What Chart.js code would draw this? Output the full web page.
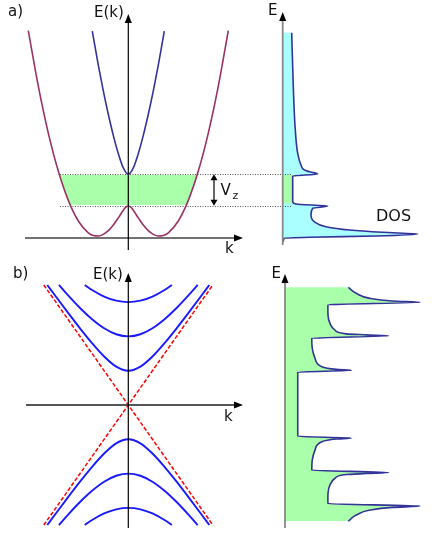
<!DOCTYPE html>
<html>
<head>
<meta charset="utf-8">
<script src="https://cdn.jsdelivr.net/npm/chart.js@4.4.1/dist/chart.umd.min.js"></script>
<style>
  html, body { margin: 0; padding: 0; background: #fff; }
  #fig { display: block; }
</style>
</head>
<body>
<canvas id="fig" width="436" height="547"></canvas>
<script>
// a) wire with spin-orbit + Zeeman: lower band (magenta) and upper band (blue)
const kLowerA = [-1.0, -0.9, -0.8, -0.7, -0.6, -0.5, -0.4, -0.35, -0.3, -0.25, -0.2, -0.15, -0.1, -0.05, -0.025, 0,
  0.025, 0.05, 0.1, 0.15, 0.2, 0.25, 0.3, 0.35, 0.4, 0.5, 0.6, 0.7, 0.8, 0.9, 1.0];
const eLowerA = [2.074, 1.518, 1.049, 0.669, 0.376, 0.170, 0.052, 0.025, 0.020, 0.036, 0.073, 0.129, 0.201, 0.278, 0.308, 0.320,
  0.308, 0.278, 0.201, 0.129, 0.073, 0.036, 0.020, 0.025, 0.052, 0.170, 0.376, 0.669, 1.049, 1.518, 2.074];
const kUpperA = [-0.36, -0.3, -0.25, -0.2, -0.15, -0.1, -0.05, 0, 0.05, 0.1, 0.15, 0.2, 0.25, 0.3, 0.36];
const eUpperA = [2.069, 1.729, 1.471, 1.237, 1.026, 0.844, 0.701, 0.637, 0.701, 0.844, 1.026, 1.237, 1.471, 1.729, 2.069];
// Zeeman gap (green band) edges
const zeemanGapA = [0.322, 0.637];
const kBandA = [-0.683, 0.683, 0.635, 0.584, -0.584, -0.635];
const eBandA = [0.63, 0.63, 0.48, 0.33, 0.33, 0.48];

// a) density of states
const eDosA = [2.053, 1.513, 1.08, 0.847, 0.73, 0.68, 0.663, 0.64, 0.62, 0.363, 0.34, 0.32, 0.297, 0.23, 0.163, 0.113,
  0.08, 0.057, 0.04, 0.02, 0.007, -0.003, -0.037];
const dosA = [0.9, 1.06, 1.26, 1.5, 1.83, 2.16, 2.66, 3.5, 1.0, 1.0, 1.33, 4.5, 3.0, 2.83, 3.16, 4.33,
  6.66, 10.0, 13.5, 9.33, 2.66, 0.16, 0.06];
const eGapDosA = [0.63, 0.63, 0.345, 0.345];
const gapDosA = [0, 1.0, 1.0, 0];

// b) Dirac cone (red dashed) and massive subbands (blue)
const kDirac = [-3.5, 3.5];
const eDiracUp = [-3.5, 3.5];
const eDiracDown = [3.5, -3.5];
const kSub1 = [-3.354, -3, -2.5, -2, -1.5, -1, -0.5, 0, 0.5, 1, 1.5, 2, 2.5, 3, 3.354];
const eSub1 = [3.5, 3.162, 2.693, 2.236, 1.803, 1.414, 1.118, 1, 1.118, 1.414, 1.803, 2.236, 2.693, 3.162, 3.5];
const eSub1Low = [-3.5, -3.162, -2.693, -2.236, -1.803, -1.414, -1.118, -1, -1.118, -1.414, -1.803, -2.236, -2.693, -3.162, -3.5];
const kSub2 = [-2.872, -2.5, -2, -1.5, -1, -0.5, 0, 0.5, 1, 1.5, 2, 2.5, 2.872];
const eSub2 = [3.5, 3.202, 2.828, 2.5, 2.236, 2.062, 2, 2.062, 2.236, 2.5, 2.828, 3.202, 3.5];
const eSub2Low = [-3.5, -3.202, -2.828, -2.5, -2.236, -2.062, -2, -2.062, -2.236, -2.5, -2.828, -3.202, -3.5];
const kSub3 = [-1.803, -1.5, -1, -0.5, 0, 0.5, 1, 1.5, 1.803];
const eSub3 = [3.5, 3.354, 3.162, 3.041, 3, 3.041, 3.162, 3.354, 3.5];
const eSub3Low = [-3.5, -3.354, -3.162, -3.041, -3, -3.041, -3.162, -3.354, -3.5];

// b) density of states
const eDosB = [3.49, 3.31, 3.16, 3.08, 3.04, 2.97, 2.85, 2.66, 2.41, 2.21, 2.1, 2.07, 2.04, 1.97, 1.67, 1.37, 1.12, 1.04, 1.01, 0.96,
  -0.96, -1.01, -1.04, -1.12, -1.37, -1.67, -1.97, -2.04, -2.07, -2.1, -2.21, -2.41, -2.66, -2.85, -2.97, -3.04, -3.08, -3.16, -3.31, -3.49];
const dosB = [5.06, 5.7, 6.8, 8.6, 10.8, 3.44, 3.43, 3.44, 3.6, 4.0, 4.9, 6.5, 8.3, 2.14, 2.18, 2.4, 2.94, 4.1, 5.33, 1.02,
  1.02, 5.33, 4.1, 2.94, 2.4, 2.18, 2.14, 8.3, 6.5, 4.9, 4.0, 3.6, 3.44, 3.43, 3.44, 10.8, 8.6, 6.8, 5.7, 5.06];

const W = 436, H = 547;
const MAGENTA = "#993366", NAVY = "#333399", BLUE = "#1a1aff", RED = "#ff0000";
const GREEN = "#aaffaa", CYAN = "#aaffff";

// value 0 sits at pixel p0, pxPerUnit pixels per unit, over the whole canvas
function xScale(p0, pxPerUnit) {
  return { type: "linear", axis: "x", display: false, bounds: "data", min: -p0 / pxPerUnit, max: (W - p0) / pxPerUnit };
}
function yScale(p0, pxPerUnit) {
  return { type: "linear", axis: "y", display: false, bounds: "data", min: -(H - p0) / pxPerUnit, max: p0 / pxPerUnit };
}

function pts(xs, ys) {
  return xs.map((x, i) => ({ x, y: ys[i] }));
}

function curve(xs, ys, ax, ay, color, width, extra) {
  return Object.assign({
    data: pts(xs, ys), xAxisID: ax, yAxisID: ay,
    borderColor: color, borderWidth: width, pointRadius: 0, fill: false,
    cubicInterpolationMode: "monotone",
  }, extra || {});
}

function dosCurve(xs, ys, ax, ay) {
  return curve(xs, ys, ax, ay, NAVY, 1.6, { indexAxis: "y" });
}

function dosFill(xs, ys, ax, ay, color) {
  const data = [{ x: 0, y: ys[0] }].concat(pts(xs, ys), [{ x: 0, y: ys[ys.length - 1] }]);
  return { data, xAxisID: ax, yAxisID: ay, indexAxis: "y", cubicInterpolationMode: "monotone",
    borderWidth: 0, pointRadius: 0, fill: "shape", backgroundColor: color };
}

function polygon(xs, ys, ax, ay, color) {
  return { data: pts(xs, ys), xAxisID: ax, yAxisID: ay, borderWidth: 0, pointRadius: 0,
    tension: 0, fill: "shape", backgroundColor: color };
}

function arrowHead(ctx, x, y, dx, dy, len, half) {
  ctx.beginPath();
  ctx.moveTo(x, y);
  ctx.lineTo(x - dx * len - dy * half, y - dy * len + dx * half);
  ctx.lineTo(x - dx * len + dy * half, y - dy * len - dx * half);
  ctx.closePath();
  ctx.fill();
}

function axisLine(ctx, x0, y0, x1, y1, color, width) {
  const L = Math.hypot(x1 - x0, y1 - y0), dx = (x1 - x0) / L, dy = (y1 - y0) / L;
  ctx.strokeStyle = color;
  ctx.lineWidth = width;
  ctx.beginPath();
  ctx.moveTo(x0, y0);
  ctx.lineTo(x1 - dx * 6, y1 - dy * 6);
  ctx.stroke();
  ctx.fillStyle = "#000";
  arrowHead(ctx, x1, y1, dx, dy, 9, 3.5);
}

function label(ctx, text, x, y, size) {
  ctx.font = size + 'px "DejaVu Sans"';
  ctx.fillStyle = "#111";
  ctx.textAlign = "left";
  ctx.textBaseline = "middle";
  ctx.fillText(text, x, y);
}

const decorations = {
  id: "decorations",
  afterDatasetsDraw(chart) {
    const ctx = chart.ctx;
    const s = chart.scales;
    ctx.save();

    // panel a: band structure axes
    const ka = s.xa.getPixelForValue(0), ea = s.ya.getPixelForValue(0);
    axisLine(ctx, 25, ea, 243, ea, "#444", 1.4);
    axisLine(ctx, ka, 250, ka, 14, "#000", 1.2);

    // dotted gap edges reaching into the DOS panel
    ctx.strokeStyle = "#555";
    ctx.lineWidth = 1;
    ctx.setLineDash([1, 1.5]);
    zeemanGapA.forEach((e) => {
      const y = Math.round(s.ya.getPixelForValue(e)) + 0.5;
      ctx.beginPath();
      ctx.moveTo(s.xa.getPixelForValue(-0.683), y);
      ctx.lineTo(s.xda.getPixelForValue(0.83), y);
      ctx.stroke();
    });
    ctx.setLineDash([]);

    // V_Z double arrow
    const xv = s.xa.getPixelForValue(0.857);
    const yt = s.ya.getPixelForValue(zeemanGapA[1]), yb = s.ya.getPixelForValue(zeemanGapA[0]);
    ctx.strokeStyle = "#000";
    ctx.lineWidth = 1.2;
    ctx.beginPath();
    ctx.moveTo(xv, yt + 4);
    ctx.lineTo(xv, yb - 4);
    ctx.stroke();
    ctx.fillStyle = "#000";
    arrowHead(ctx, xv, yt, 0, -1, 6, 3.5);
    arrowHead(ctx, xv, yb, 0, 1, 6, 3.5);

    label(ctx, "a)", 8, 12, 15);
    label(ctx, "E(k)", 94, 13, 15);
    label(ctx, "k", 225, 249, 15);
    label(ctx, "V", 220.5, 191.5, 15);
    label(ctx, "z", 232.5, 196, 11);

    // panel a: DOS axis
    const da = s.xda.getPixelForValue(0);
    axisLine(ctx, da, 245, da, 12, "#888", 1.8);
    label(ctx, "E", 268, 11, 15);
    label(ctx, "DOS", 376, 217, 16);

    // panel b: band structure axes
    const kb = s.xb.getPixelForValue(0), eb = s.yb.getPixelForValue(0);
    axisLine(ctx, 26, eb, 243, eb, "#555", 2);
    axisLine(ctx, kb, 528, kb, 273, "#000", 1.2);
    label(ctx, "b)", 13, 274, 15);
    label(ctx, "E(k)", 93, 275, 15);
    label(ctx, "k", 224, 417, 15);

    // panel b: DOS axis
    const db = s.xdb.getPixelForValue(0);
    axisLine(ctx, db, 528, db, 274, "#888", 1.8);
    label(ctx, "E", 271.5, 274, 15);

    ctx.restore();
  },
};

new Chart(document.getElementById("fig").getContext("2d"), {
  type: "line",
  data: {
    datasets: [
      curve(kLowerA, eLowerA, "xa", "ya", MAGENTA, 1.6),
      curve(kUpperA, eUpperA, "xa", "ya", NAVY, 1.6),
      dosCurve(dosA, eDosA, "xda", "ya"),
      curve(kDirac, eDiracUp, "xb", "yb", RED, 1.5, { borderDash: [4, 2] }),
      curve(kDirac, eDiracDown, "xb", "yb", RED, 1.5, { borderDash: [4, 2] }),
      curve(kSub1, eSub1, "xb", "yb", BLUE, 1.9),
      curve(kSub2, eSub2, "xb", "yb", BLUE, 1.9),
      curve(kSub3, eSub3, "xb", "yb", BLUE, 1.9),
      curve(kSub1, eSub1Low, "xb", "yb", BLUE, 1.9),
      curve(kSub2, eSub2Low, "xb", "yb", BLUE, 1.9),
      curve(kSub3, eSub3Low, "xb", "yb", BLUE, 1.9),
      dosCurve(dosB, eDosB, "xdb", "ydb"),
      polygon(gapDosA, eGapDosA, "xda", "ya", GREEN),
      polygon(kBandA, eBandA, "xa", "ya", GREEN),
      dosFill(dosA, eDosA, "xda", "ya", CYAN),
      dosFill(dosB, eDosB, "xdb", "ydb", GREEN),
    ],
  },
  options: {
    responsive: false,
    animation: false,
    events: [],
    layout: { padding: 0, autoPadding: false },
    plugins: { legend: { display: false }, tooltip: { enabled: false } },
    scales: {
      xa: xScale(128.3, 100),
      ya: yScale(238, 100),
      xda: xScale(282.7, 10),
      xb: xScale(128.3, 24.15),
      yb: yScale(405, 34.3),
      xdb: xScale(285, 12.5),
      ydb: yScale(404.2, 33.5),
    },
  },
  plugins: [decorations],
});
</script>
</body>
</html>
